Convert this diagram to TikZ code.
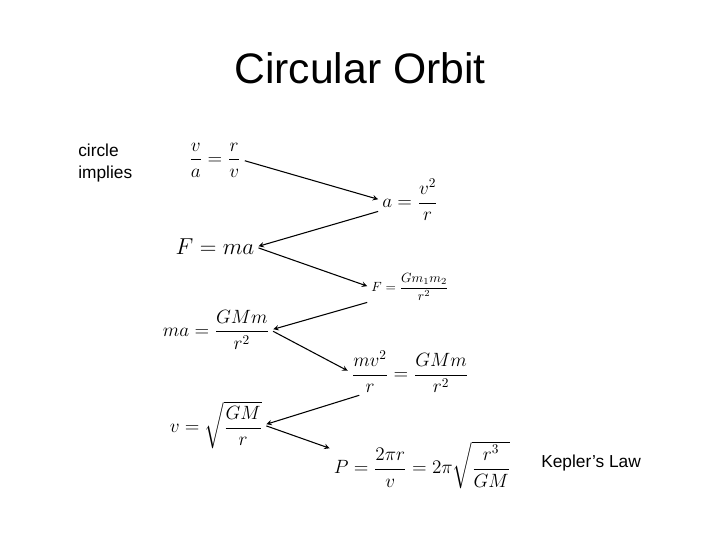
\documentclass[tikz,border=0pt]{standalone}
\usepackage{amsmath}
\usepackage{fontspec}
\setsansfont{Liberation Sans}
\usetikzlibrary{arrows}

\begin{document}
\begin{tikzpicture}[x=0.75pt,y=-0.75pt,
  % STYLES
  eqn/.style={inner sep=1pt,font=\Large},
  lbl/.style={font=\sffamily\large,align=left,inner sep=0pt},
  link/.style={->,>=stealth,thick,shorten <=2pt,shorten >=2pt}]
  \useasboundingbox (0,0) rectangle (720,540);

  \node[font=\sffamily\fontsize{32}{38}\selectfont] (title) at (360,68) {Circular Orbit};
  \node[lbl,anchor=west,font=\sffamily\fontsize{13}{16}\selectfont] (circ) at (78,163) {circle\\implies};
  \node[lbl,anchor=west,font=\sffamily\fontsize{13}{16}\selectfont] (kep) at (541,463) {Kepler's Law};

  \node[eqn] (e1) at (215,160) {$\dfrac{v}{a}=\dfrac{r}{v}$};
  \node[eqn] (e2) at (410,200) {$a=\dfrac{v^2}{r}$};
  \node[eqn,font=\LARGE] (e3) at (215,247) {$F=ma$};
  \node[eqn,font=\normalsize] (e4) at (410,287) {$F=\dfrac{Gm_1m_2}{r^2}$};
  \node[eqn] (e5) at (216,330) {$ma=\dfrac{GMm}{r^2}$};
  \node[eqn] (e6) at (410,372) {$\dfrac{mv^2}{r}=\dfrac{GMm}{r^2}$};
  \node[eqn] (e7) at (216,425) {$v=\sqrt{\dfrac{GM}{r}}$};
  \node[eqn] (e8) at (422,465) {$P=\dfrac{2\pi r}{v}=2\pi\sqrt{\dfrac{r^3}{GM}}$};

  \draw[link] (e1.east) -- (e2.west);
  \draw[link] (e2.200) -- (e3.east);
  \draw[link] (e3.east) -- (e4.west);
  \draw[link] (e4.200) -- (e5.east);
  \draw[link] (e5.east) -- (e6.west);
  \draw[link] (e6.205) -- (e7.east);
  \draw[link] (e7.east) -- (e8.170);
\end{tikzpicture}
\end{document}
